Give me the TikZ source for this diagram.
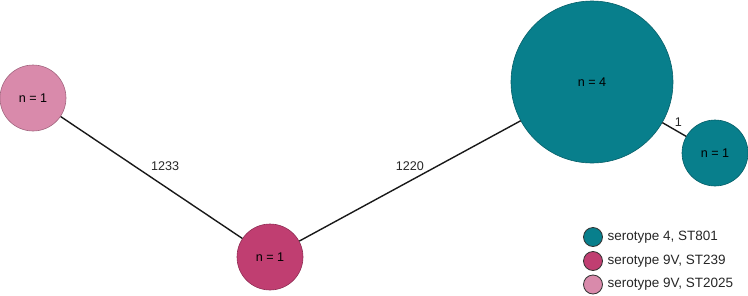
\documentclass[tikz,border=0pt]{standalone}
\usepackage{fontspec}
\setmainfont{Liberation Sans}
\usetikzlibrary{positioning}

\begin{document}
\begin{tikzpicture}[
  x=1pt, y=-1pt,
  font=\fontsize{12.6}{14}\selectfont,
  st/.style={circle, draw=#1!75!black, fill=#1, line width=0.6pt,
             inner sep=0pt, minimum size=66pt},
  link/.style={draw, line width=1.4pt, black!90},
  lbl/.style={inner sep=0pt, text=black!85},
  key/.style={circle, draw=black!80, fill=#1, line width=0.8pt,
              inner sep=0pt, minimum size=19pt},
  keytxt/.style={inner sep=0pt, font=\fontsize{13.5}{15}\selectfont, text=black!85}
]
  \definecolor{stteal}{HTML}{087F8C}
  \definecolor{stmag}{HTML}{C03E71}
  \definecolor{stpink}{HTML}{D98AAB}

  \useasboundingbox (0,0) rectangle (748,295);

  % ================= CLUSTERS =================
  \node[st=stpink] (st2025) at (33,98) {n = 1};
  \node[st=stmag] (st239) at (270,257) {n = 1};
  \node[st=stteal, minimum size=162pt] (st801a) at (592,82) {n = 4};
  \node[st=stteal] (st801b) at (715,153) {n = 1};

  % ================= LINKS =================
  \draw[link] (st2025) -- (st239)
    node[lbl, pos=0.5, anchor=south west, xshift=-1pt, yshift=6pt] {1233};
  \draw[link] (st239) -- (st801a)
    node[lbl, pos=0.5, above=10pt] {1220};
  \draw[link] (st801a) -- (st801b)
    node[lbl, pos=0.5, anchor=south west, yshift=2pt] {1};

  % ================= LEGEND =================
  \node[key=stteal] (k801) at (593,237) {};
  \node[key=stmag] (k239) at (593,261) {};
  \node[key=stpink] (k2025) at (593,284.5) {};
  \node[keytxt, right=4.5pt of k801] {serotype 4, ST801};
  \node[keytxt, right=4.5pt of k239] {serotype 9V, ST239};
  \node[keytxt, right=4.5pt of k2025] {serotype 9V, ST2025};
\end{tikzpicture}
\end{document}
